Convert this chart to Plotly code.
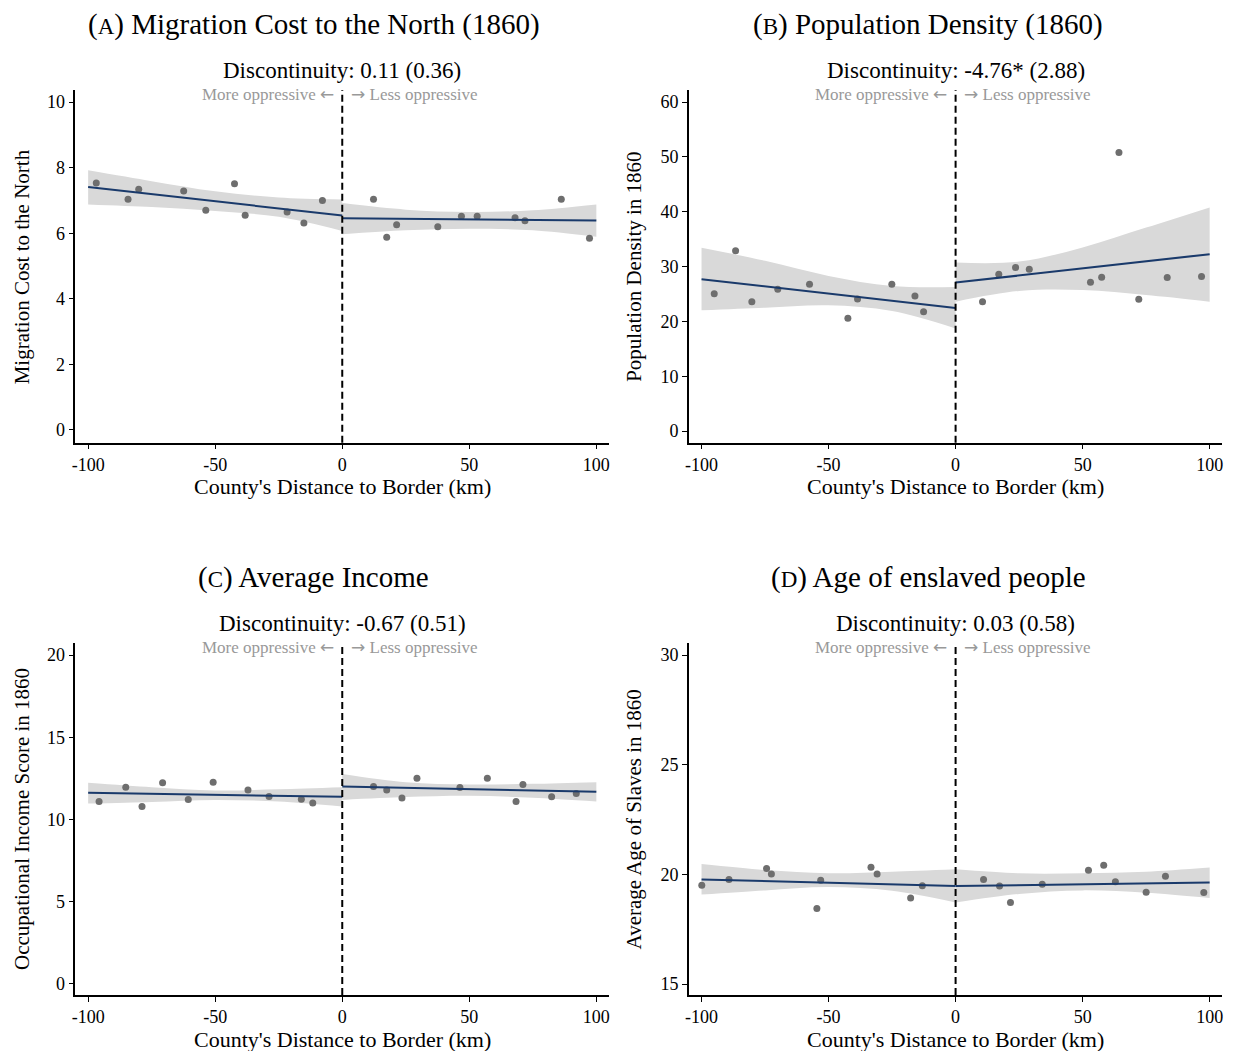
import plotly.graph_objects as go

# binned scatter points: distance to border (km) and outcome
a_x = [-96.8, -84.3, -80.1, -62.4, -53.7, -42.4, -38.2, -21.7, -15.1, -7.8,
       12.3, 17.5, 21.4, 37.6, 46.9, 53.1, 68.0, 71.9, 86.2, 97.3]
a_y = [7.53, 7.04, 7.34, 7.29, 6.70, 7.51, 6.55, 6.65, 6.31, 7.00,
       7.04, 5.88, 6.26, 6.20, 6.52, 6.52, 6.47, 6.38, 7.04, 5.85]

b_x = [-95.0, -86.6, -80.2, -70.0, -57.5, -42.4, -38.6, -25.1, -16.0, -12.6,
       10.6, 17.0, 23.6, 29.0, 53.1, 57.5, 64.3, 72.1, 83.3, 96.8]
b_y = [25.06, 32.87, 23.6, 25.85, 26.77, 20.55, 24.09, 26.77, 24.63, 21.77,
       23.6, 28.6, 29.82, 29.51, 27.13, 28.05, 50.79, 24.02, 27.99, 28.17]

c_x = [-95.7, -85.2, -78.8, -70.7, -60.6, -50.8, -37.1, -28.8, -16.1, -11.6,
       12.3, 17.5, 23.5, 29.4, 46.3, 57.1, 68.4, 71.1, 82.4, 92.1]
c_y = [11.09, 11.96, 10.79, 12.23, 11.21, 12.27, 11.80, 11.40, 11.23, 11.01,
       12.00, 11.80, 11.31, 12.51, 11.94, 12.51, 11.09, 12.13, 11.38, 11.58]

d_x = [-99.9, -89.2, -74.4, -72.5, -54.6, -53.1, -33.3, -30.9, -17.7, -13.1,
       11.0, 17.3, 21.6, 34.1, 52.3, 58.3, 62.9, 75.0, 82.6, 97.7]
d_y = [19.50, 19.77, 20.27, 20.02, 18.44, 19.73, 20.33, 20.02, 18.92, 19.48,
       19.77, 19.47, 18.72, 19.55, 20.19, 20.42, 19.66, 19.19, 19.91, 19.17]

# linear fits on each side of the border
fit_x_l = [-100, 0]
fit_x_r = [0, 100]
a_fit_l, a_fit_r = [7.41, 6.54], [6.46, 6.39]
b_fit_l, b_fit_r = [27.68, 22.44], [27.07, 32.26]
c_fit_l, c_fit_r = [11.62, 11.38], [12.00, 11.68]
d_fit_l, d_fit_r = [19.77, 19.47], [19.47, 19.63]

# confidence bands
band_x_l = [-100, -75, -50, -25, 0]
band_x_r = [0, 25, 50, 75, 100]
a_lo_l, a_hi_l = [6.88, 6.80, 6.68, 6.50, 6.07], [7.92, 7.59, 7.28, 7.09, 7.03]
a_lo_r, a_hi_r = [5.97, 6.09, 6.14, 6.09, 5.89], [6.92, 6.72, 6.65, 6.70, 6.88]
b_lo_l, b_hi_l = [22.01, 22.5, 22.93, 21.89, 18.72], [33.41, 31.04, 28.29, 26.46, 26.28]
b_lo_r, b_hi_r = [23.6, 25.55, 25.73, 24.8, 23.6], [30.73, 30.9, 33.48, 37.1, 40.79]
c_lo_l, c_hi_l = [10.97, 11.07, 11.19, 11.09, 10.79], [12.23, 11.96, 11.76, 11.84, 11.96]
c_lo_r, c_hi_r = [11.19, 11.36, 11.44, 11.32, 11.09], [12.77, 12.27, 12.13, 12.17, 12.27]
d_lo_l, d_hi_l = [19.08, 19.27, 19.42, 19.25, 18.72], [20.47, 20.20, 20.05, 20.12, 20.23]
d_lo_r, d_hi_r = [18.72, 19.11, 19.27, 19.16, 18.92], [20.23, 20.05, 20.05, 20.12, 20.31]

titles = ["(<span style='font-size:23px'>A</span>) Migration Cost to the North (1860)",
          "(<span style='font-size:23px'>B</span>) Population Density (1860)",
          "(<span style='font-size:23px'>C</span>) Average Income",
          "(<span style='font-size:23px'>D</span>) Age of enslaved people"]
disc = ["Discontinuity: 0.11 (0.36)", "Discontinuity: -4.76* (2.88)",
        "Discontinuity: -0.67 (0.51)", "Discontinuity: 0.03 (0.58)"]
xtitle = "County's Distance to Border (km)"
ytitles = ["Migration Cost to the North", "Population Density in 1860",
           "Occupational Income Score in 1860", "Average Age of Slaves in 1860"]
yticks = [[0, 2, 4, 6, 8, 10], [0, 10, 20, 30, 40, 50, 60],
          [0, 5, 10, 15, 20], [15, 20, 25, 30]]
yranges = [[-0.39, 10.37], [-2.13, 62.2], [-0.67, 20.73], [14.5, 30.55]]
xticks = [-100, -50, 0, 50, 100]

FONT = "Liberation Serif"
BAND = "#d9d9d9"
NAVY = "#1a3a6b"
DOT = "#6e6e6e"
ARROW = "<span style='font-family:DejaVu Sans'>%s</span>"

panels = [
    (a_x, a_y, a_fit_l, a_fit_r, a_lo_l, a_hi_l, a_lo_r, a_hi_r),
    (b_x, b_y, b_fit_l, b_fit_r, b_lo_l, b_hi_l, b_lo_r, b_hi_r),
    (c_x, c_y, c_fit_l, c_fit_r, c_lo_l, c_hi_l, c_lo_r, c_hi_r),
    (d_x, d_y, d_fit_l, d_fit_r, d_lo_l, d_hi_l, d_lo_r, d_hi_r),
]

# page has an 8px body margin, so the figure is drawn 8px smaller
W, H = 1229, 1043
xdoms = [[63.7 / W, 599.5 / W], [679.6 / W, 1215.3 / W]]
ydoms = [[1 - 434.7 / H, 1 - 82 / H], [1 - 987 / H, 1 - 635 / H]]
title_x = [303 / W, 920 / W]
ytitle_x = [10 / W, 625 / W]

fig = go.Figure()
layout = dict(width=W, height=H, margin=dict(l=0, r=0, t=0, b=0),
              plot_bgcolor="white", paper_bgcolor="white", showlegend=False,
              font=dict(family=FONT, color="black"))
annotations = []
shapes = []

for i, (px, py, fl, fr, lol, hil, lor, hir) in enumerate(panels):
    n = "" if i == 0 else str(i + 1)
    xa, ya = "x" + n, "y" + n
    for bx, lo, hi in [(band_x_l, lol, hil), (band_x_r, lor, hir)]:
        fig.add_trace(go.Scatter(x=bx, y=lo, mode="lines", line=dict(width=0, shape="spline", color=BAND),
                                 xaxis=xa, yaxis=ya, hoverinfo="skip"))
        fig.add_trace(go.Scatter(x=bx, y=hi, mode="lines", line=dict(width=0, shape="spline", color=BAND),
                                 fill="tonexty", fillcolor=BAND, xaxis=xa, yaxis=ya, hoverinfo="skip"))
    fig.add_trace(go.Scatter(x=px, y=py, mode="markers", marker=dict(color=DOT, size=7),
                             xaxis=xa, yaxis=ya))
    for fx, fy in [(fit_x_l, fl), (fit_x_r, fr)]:
        fig.add_trace(go.Scatter(x=fx, y=fy, mode="lines", line=dict(color=NAVY, width=2),
                                 xaxis=xa, yaxis=ya))

    col, row = i % 2, i // 2
    axis_common = dict(showline=True, linecolor="black", linewidth=1.5, showgrid=False, zeroline=False,
                       ticks="outside", ticklen=5, tickwidth=1.3, tickcolor="black",
                       tickfont=dict(size=18, family=FONT))
    layout["xaxis" + n] = dict(axis_common, domain=xdoms[col], anchor=ya, range=[-105, 105],
                               tickvals=xticks, ticktext=[str(v) for v in xticks])
    layout["yaxis" + n] = dict(axis_common, domain=ydoms[row], anchor=xa, range=yranges[i],
                               tickvals=yticks[i], ticktext=[str(v) for v in yticks[i]])

    shapes.append(dict(type="line", xref=xa, yref=ya + " domain", x0=0, x1=0, y0=0, y1=1,
                       line=dict(color="black", width=2, dash="7px,4px")))

    xmid = (xdoms[col][0] + xdoms[col][1]) / 2
    ytop, ybot = ydoms[row][1], ydoms[row][0]
    annotations.append(dict(text=titles[i], xref="paper", yref="paper",
                            x=title_x[col], y=ytop + 66 / H,
                            xanchor="center", yanchor="middle", showarrow=False,
                            font=dict(size=29, family=FONT)))
    annotations.append(dict(text=disc[i], xref="paper", yref="paper", x=xmid, y=ytop + 20 / H,
                            xanchor="center", yanchor="middle", showarrow=False,
                            font=dict(size=23, family=FONT)))
    annotations.append(dict(text="More oppressive " + ARROW % "\u2190", xref=xa, yref="paper",
                            x=-2.5, y=ytop - 4 / H, xanchor="right", yanchor="middle", showarrow=False,
                            font=dict(size=17, family=FONT, color="#999999")))
    annotations.append(dict(text=ARROW % "\u2192" + " Less oppressive", xref=xa, yref="paper",
                            x=2.5, y=ytop - 4 / H, xanchor="left", yanchor="middle", showarrow=False,
                            font=dict(size=17, family=FONT, color="#999999")))
    annotations.append(dict(text=xtitle, xref="paper", yref="paper", x=xmid, y=ybot - 44 / H,
                            xanchor="center", yanchor="middle", showarrow=False,
                            font=dict(size=22, family=FONT)))
    annotations.append(dict(text=ytitles[i], xref="paper", yref="paper", x=ytitle_x[col],
                            y=(ytop + ybot) / 2, textangle=-90,
                            xanchor="center", yanchor="middle", showarrow=False,
                            font=dict(size=21, family=FONT)))

layout["annotations"] = annotations
layout["shapes"] = shapes
fig.update_layout(**layout)

fig.write_html("out.html")
